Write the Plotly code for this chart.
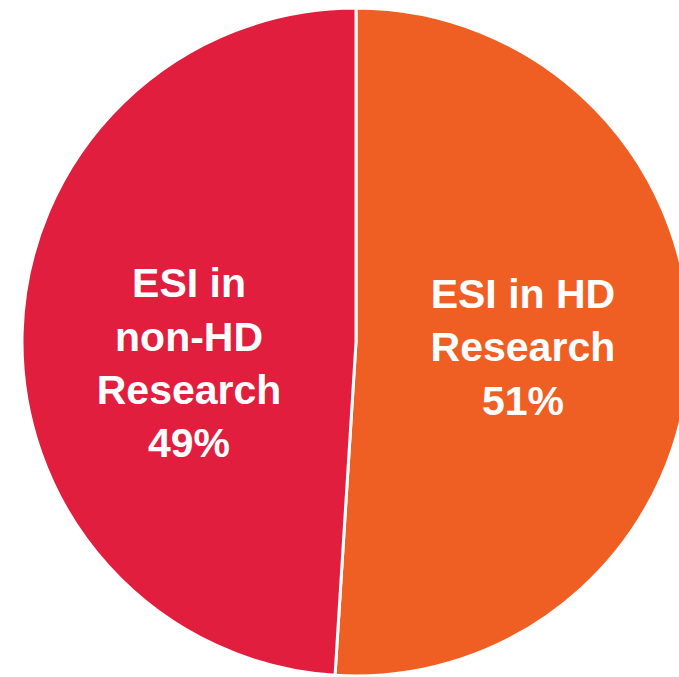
import plotly.graph_objects as go

labels = ["ESI in HD<br>Research", "ESI in<br>non-HD<br>Research"]
values = [51, 49]
colors = ["#EF5F24", "#E11E3D"]

fig = go.Figure(go.Pie(
    labels=labels,
    values=values,
    sort=False,
    direction="clockwise",
    rotation=0,
    marker=dict(colors=colors, line=dict(color="white", width=3)),
    textinfo="label+percent",
    texttemplate=["<b>%{label}<br>%{percent:.0%}</b>",
                  "\u00a0<br><b>%{label}<br>%{percent:.0%}</b>"],
    textposition="inside",
    insidetextorientation="horizontal",
    insidetextfont=dict(family="Liberation Sans, Arial, sans-serif", size=41, color="white"),
    hoverinfo="label+percent",
    showlegend=False,
))

fig.update_layout(
    width=712, height=677, autosize=False,
    margin=dict(l=0, r=0, t=8, b=1),
    paper_bgcolor="white", plot_bgcolor="white",
)

fig.write_html(
    "out.html",
    config={"displayModeBar": False},
    post_script="document.body.style.margin='0';document.body.style.overflow='hidden';document.documentElement.style.overflow='hidden';",
)
